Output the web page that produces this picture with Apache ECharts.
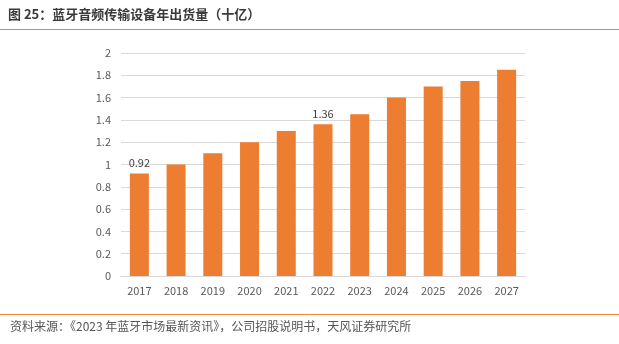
<!DOCTYPE html>
<html><head><meta charset="utf-8">
<script src="https://cdn.jsdelivr.net/npm/echarts@6/dist/echarts.min.js"></script>
<style>html,body{margin:0;padding:0;background:#fff;}#c{width:619px;height:344px;}</style>
</head><body><div id="c"></div>
<script>
const categories = ['2017','2018','2019','2020','2021','2022','2023','2024','2025','2026','2027'];
const shipments = [0.92, 1.00, 1.10, 1.20, 1.30, 1.36, 1.45, 1.60, 1.70, 1.75, 1.85];
const labeledYears = ['2017','2022'];
const yTicks = [0, 0.2, 0.4, 0.6, 0.8, 1, 1.2, 1.4, 1.6, 1.8, 2];
const titleText = '图 25：蓝牙音频传输设备年出货量（十亿）';
const sourceText = '资料来源：《2023 年蓝牙市场最新资讯》，公司招股说明书，天风证券研究所';

const chart = echarts.init(document.getElementById('c'), null, {renderer:'canvas'});
const font = '"Noto Sans CJK SC", "Noto Sans", sans-serif';
chart.setOption({
  animation: false,
  backgroundColor: '#fff',
  graphic: [
    {type:'text', left: 8, top: 8, style:{text: titleText, font: 'bold 13px ' + font, fill:'#3a3a3a'}},
    {type:'line', shape:{x1:0, y1:29.5, x2:619, y2:29.5}, style:{stroke:'#f0882a', lineWidth:1.2}},
    {type:'line', shape:{x1:0, y1:314.5, x2:619, y2:314.5}, style:{stroke:'#e98b3a', lineWidth:1}},
    {type:'text', left: 10, top: 320, style:{text: sourceText, font: '12px ' + font, fill:'#555'}}
  ],
  grid: {left: 121, right: 94, top: 53, bottom: 68, containLabel: false},
  xAxis: {
    type:'category', data: categories,
    axisLine:{show:true, lineStyle:{color:'#d9d9d9'}},
    axisTick:{show:false},
    axisLabel:{color:'#595959', fontSize:11, margin:9, fontFamily:font}
  },
  yAxis: {
    type:'value', min: 0, max: 2, interval: 0.2,
    axisLine:{show:false}, axisTick:{show:false},
    axisLabel:{color:'#595959', fontSize:11, margin:10, fontFamily:font,
      formatter: v => String(Math.round(v*10)/10)},
    splitLine:{lineStyle:{color:'#d9d9d9'}}
  },
  series: [{
    type:'bar', barWidth: 19,
    data: shipments.map((v,i)=>({value:v, label:{show: labeledYears.includes(categories[i])}})),
    itemStyle:{color:'#ed7d31'},
    label:{position:'top', color:'#404040', fontSize:11, fontFamily:font, distance:5,
      formatter: p => p.value.toFixed(2)}
  }]
});
</script></body></html>
